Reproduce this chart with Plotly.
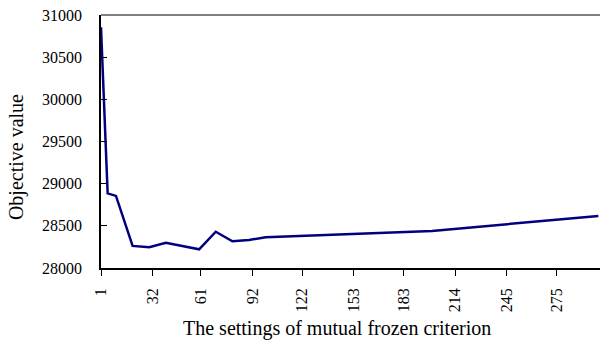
import plotly.graph_objects as go

settings = [1, 5, 10, 20, 30, 40, 60, 70, 80, 90, 100, 200, 300]
objective = [30855, 28885, 28855, 28262, 28246, 28300, 28222, 28430, 28317, 28332, 28365, 28440, 28617]
x_ticks = [1, 32, 61, 92, 122, 153, 183, 214, 245, 275]
y_ticks = [28000, 28500, 29000, 29500, 30000, 30500, 31000]
x_title = "The settings of mutual frozen criterion"
y_title = "Objective value"

serif = "Liberation Serif"

fig = go.Figure()
fig.add_trace(go.Scatter(x=settings, y=objective, mode="lines",
                         line=dict(color="#000080", width=2.5), showlegend=False))

fig.update_layout(
    width=600, height=342,
    margin=dict(l=101, r=0, t=15, b=74),
    paper_bgcolor="white", plot_bgcolor="white",
    font=dict(family=serif, size=16, color="black"),
    xaxis=dict(
        range=[1, 301], tickvals=x_ticks, ticktext=[str(v) for v in x_ticks],
        tickangle=-90, ticks="outside", ticklen=6, tickcolor="black",
        tickfont=dict(family=serif, size=16, color="black"),
        showline=True, linecolor="black", linewidth=1.5, showgrid=False, zeroline=False,
        ticklabelstandoff=6,
    ),
    yaxis=dict(
        range=[28000, 31000], tickvals=y_ticks, ticktext=[str(v) for v in y_ticks],
        ticks="inside", ticklen=6, tickcolor="black",
        tickfont=dict(family=serif, size=16, color="black"),
        showline=True, linecolor="black", linewidth=1.5, showgrid=False, zeroline=False,
        ticklabelstandoff=14,
    ),
    annotations=[
        dict(text=x_title, xref="paper", yref="paper", x=0.473, y=-0.241,
             xanchor="center", yanchor="middle", showarrow=False,
             font=dict(family=serif, size=20, color="black")),
        dict(text=y_title, xref="paper", yref="paper", x=-0.168, y=0.439,
             xanchor="center", yanchor="middle", showarrow=False, textangle=-90,
             font=dict(family=serif, size=20, color="black")),
    ],
    shapes=[dict(type="line", xref="paper", yref="paper", x0=0, x1=1, y0=1, y1=1,
                 line=dict(color="#7f7f7f", width=2))],
)

fig.write_html("out.html")
